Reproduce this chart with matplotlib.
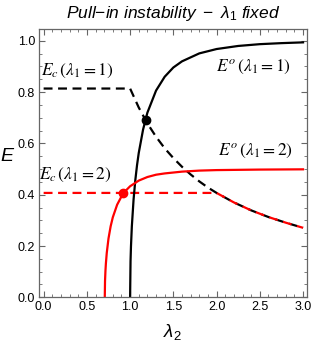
import matplotlib.pyplot as plt
from matplotlib.ticker import MultipleLocator

plt.rcParams['mathtext.fontset'] = 'custom'
plt.rcParams['mathtext.rm'] = 'Liberation Sans'
plt.rcParams['mathtext.it'] = 'Liberation Sans:italic'
plt.rcParams['font.family'] = 'Liberation Sans'

# E^o, lambda_1 = 1 (black solid)
lam_o1 = [1.0, 1.005, 1.01, 1.02, 1.04, 1.06, 1.08, 1.1, 1.15, 1.2, 1.3, 1.4,
          1.5, 1.6, 1.8, 2.0, 2.25, 2.5, 2.75, 3.0]
e_o1 = [0.0, 0.141, 0.198, 0.276, 0.381, 0.456, 0.515, 0.563, 0.654, 0.72, 0.806,
        0.86, 0.896, 0.92, 0.951, 0.968, 0.98, 0.987, 0.991, 0.994]

# E^o, lambda_1 = 2 (red solid)
lam_o2 = [0.707, 0.71, 0.715, 0.72, 0.73, 0.75, 0.775, 0.8, 0.85, 0.9, 0.95, 1.0,
          1.1, 1.2, 1.3, 1.4, 1.6, 1.8, 2.0, 2.5, 3.0]
e_o2 = [0.0, 0.064, 0.104, 0.132, 0.173, 0.229, 0.277, 0.312, 0.361, 0.393, 0.416,
        0.433, 0.455, 0.469, 0.478, 0.483, 0.49, 0.494, 0.496, 0.498, 0.499]

# E_c, lambda_1 = 1 (black dashed)
lam_c1 = [0.0, 1.0, 1.1, 1.2, 1.3, 1.4, 1.5, 1.6, 1.7, 1.8, 1.9, 2.0, 2.2, 2.4,
          2.6, 2.8, 3.0]
e_c1 = [0.814, 0.814, 0.74, 0.678, 0.626, 0.581, 0.543, 0.509, 0.479, 0.452,
        0.428, 0.407, 0.37, 0.339, 0.313, 0.291, 0.271]

# E_c, lambda_1 = 2 (red dashed)
lam_c2 = [0.0, 2.0, 2.2, 2.4, 2.6, 2.8, 3.0]
e_c2 = [0.407, 0.407, 0.37, 0.339, 0.313, 0.291, 0.271]

# pull-in points
pull_lam = [1.18, 0.92]
pull_e = [0.69, 0.405]

fig = plt.figure(figsize=(3.13, 3.47), dpi=100)
ax = fig.add_axes([0.1256, 0.1432, 0.982 - 0.1256, 0.9156 - 0.1432])

ax.plot(lam_c1, e_c1, color='black', lw=1.6, dashes=(4, 2.5))
ax.plot(lam_c2, e_c2, color='red', lw=1.6, dashes=(4, 2.5))
ax.plot(lam_o1, e_o1, color='black', lw=1.6)
ax.plot(lam_o2, e_o2, color='red', lw=1.6)
ax.plot(pull_lam[0], pull_e[0], 'o', color='black', ms=6)
ax.plot(pull_lam[1], pull_e[1], 'o', color='red', ms=6)

lab = dict(fontsize=12.5, math_fontfamily='stix', color='black')
ax.text(-0.03, 0.884, r'$E_c\,(\lambda_1 = 1)$', ha='left', va='center', **lab)
ax.text(-0.05, 0.478, r'$E_c\,(\lambda_1 = 2)$', ha='left', va='center', **lab)
ax.text(2.43, 0.90, r'$E^o\,(\lambda_1 = 1)$', ha='center', va='center', **lab)
ax.text(2.45, 0.569, r'$E^o\,(\lambda_1 = 2)$', ha='center', va='center', **lab)

ax.set_xlim(-0.05, 3.05)
ax.set_ylim(0, 1.045)
ax.xaxis.set_major_locator(MultipleLocator(0.5))
ax.xaxis.set_minor_locator(MultipleLocator(0.1))
ax.yaxis.set_major_locator(MultipleLocator(0.2))
ax.yaxis.set_minor_locator(MultipleLocator(0.05))
ax.tick_params(which='both', direction='in', top=True, right=True,
               color='#666666', labelsize=9, pad=3)
ax.tick_params(which='major', length=4.5, width=0.8)
ax.tick_params(which='minor', length=2.5, width=0.6)
for s in ax.spines.values():
    s.set_color('#666666')
    s.set_linewidth(0.9)

# axis labels placed where the reference has them
fig.text(172 / 313, 1 - 332 / 347, r'$\lambda_2$', fontsize=13.5, ha='center', va='center')
fig.text(8 / 313, 1 - 157 / 347, r'$E$', fontsize=14, ha='center', va='center')
ax.set_title(r'$\mathit{Pull}{-}\mathit{in\ instability}\ -\ \lambda_1\ \mathit{fixed}$',
             fontsize=12.5, pad=8)

plt.savefig('out.png', dpi=100)
